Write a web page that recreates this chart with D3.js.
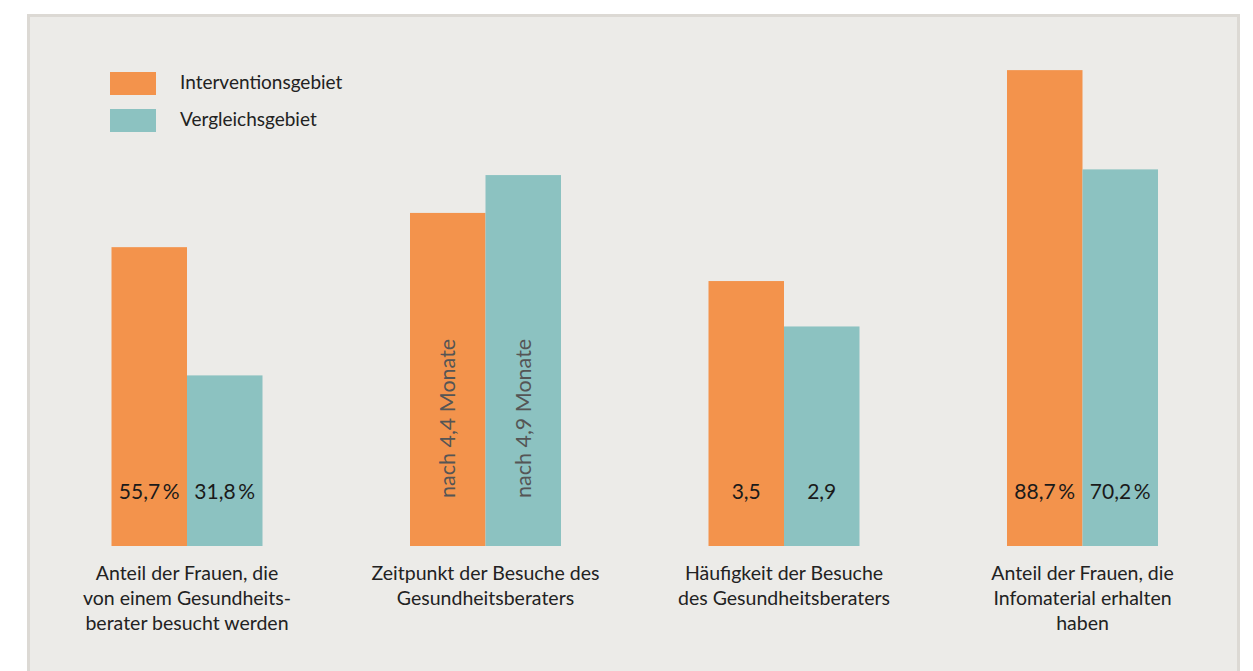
<!DOCTYPE html>
<html lang="de">
<head>
<meta charset="UTF-8">
<title>Gesundheitsberater</title>
<script src="https://d3js.org/d3.v7.min.js"></script>
<style>
  body { margin: 0; background: #fff; }
  svg { display: block; font-family: Lato, "Open Sans", sans-serif; }
</style>
</head>
<body>
<svg width="1253" height="671"></svg>
<script>
// categories (line breaks as in the original)
var categories = [
    ["Anteil der Frauen, die", "von einem Gesundheits-", "berater besucht werden"],
    ["Zeitpunkt der Besuche des", "Gesundheitsberaters"],
    ["Häufigkeit der Besuche", "des Gesundheitsberaters"],
    ["Anteil der Frauen, die", "Infomaterial erhalten", "haben"]
];
var series = ["Interventionsgebiet", "Vergleichsgebiet"];
var interventionValues = [55.7, 4.4, 3.5, 88.7];
var vergleichValues = [31.8, 4.9, 2.9, 70.2];
var valueKinds = ["pct", "month", "count", "pct"];
var colors = ["#f3934c", "#8cc2c1"];

var svg = d3.select("svg");

// panel background
svg.append("rect")
    .attr("x", 28.5).attr("y", 15.5)
    .attr("width", 1210).attr("height", 670)
    .attr("fill", "#ecebe8")
    .attr("stroke", "#dcd9d4")
    .attr("stroke-width", 3);

var baseY = 546;

// group centres and bar offsets
var x0 = d3.scalePoint()
    .domain(d3.range(categories.length))
    .range([187, 1082.5]);
var x1 = d3.scaleBand()
    .domain(series)
    .range([-75.5, 75.5]);

// percent values and the month / count values use their own scales
var yPct = d3.scaleLinear().domain([0, 100]).range([baseY, baseY - 536.5]);
var yNum = d3.scaleLinear().domain([0, 5]).range([baseY, baseY - 378.5]);
function yFor(kind) { return kind === "pct" ? yPct : yNum; }

function fmt(v, kind) {
    var s = String(v).replace(".", ",");
    if (kind === "pct") return s + "\u2009%";
    if (kind === "month") return "nach " + s + " Monate";
    return s;
}

var rows = [];
categories.forEach(function(c, i) {
    [interventionValues, vergleichValues].forEach(function(vals, j) {
        rows.push({ cat: i, s: series[j], color: colors[j], value: vals[i], kind: valueKinds[i] });
    });
});

var bars = svg.append("g").selectAll("g")
    .data(rows)
    .join("g");

bars.append("rect")
    .attr("x", function(d) { return x0(d.cat) + x1(d.s); })
    .attr("y", function(d) { return yFor(d.kind)(d.value); })
    .attr("width", x1.bandwidth())
    .attr("height", function(d) { return baseY - yFor(d.kind)(d.value); })
    .attr("fill", function(d) { return d.color; });

// value labels inside the bars
bars.filter(function(d) { return d.kind !== "month"; })
    .append("text")
    .attr("x", function(d) { return x0(d.cat) + x1(d.s) + x1.bandwidth() / 2; })
    .attr("y", 499)
    .attr("text-anchor", "middle")
    .attr("font-size", 21)
    .attr("fill", "#1a1a1a")
    .text(function(d) { return fmt(d.value, d.kind); });

bars.filter(function(d) { return d.kind === "month"; })
    .append("text")
    .attr("transform", function(d) {
        return "translate(" + (x0(d.cat) + x1(d.s) + x1.bandwidth() / 2 + 7.5) + ",498) rotate(-90)";
    })
    .attr("text-anchor", "start")
    .attr("font-size", 21.5)
    .attr("fill", "#555")
    .text(function(d) { return fmt(d.value, d.kind); });

// category labels
var catLabels = svg.append("g").selectAll("text")
    .data(categories)
    .join("text")
    .attr("x", function(d, i) { return x0(i); })
    .attr("y", 580)
    .attr("text-anchor", "middle")
    .attr("font-size", 19.5)
    .attr("fill", "#222");
catLabels.selectAll("tspan")
    .data(function(d) { return d; })
    .join("tspan")
    .attr("x", function() { return d3.select(this.parentNode).attr("x"); })
    .attr("dy", function(d, i) { return i === 0 ? 0 : 25; })
    .text(function(d) { return d; });

// legend
var legend = svg.append("g").selectAll("g")
    .data(series)
    .join("g")
    .attr("transform", function(d, i) { return "translate(110," + (72 + i * 37) + ")"; });
legend.append("rect")
    .attr("width", 46).attr("height", 23)
    .attr("fill", function(d, i) { return colors[i]; });
legend.append("text")
    .attr("x", 70).attr("y", 17)
    .attr("font-size", 19)
    .attr("fill", "#222")
    .text(function(d) { return d; });
</script>
</body>
</html>
